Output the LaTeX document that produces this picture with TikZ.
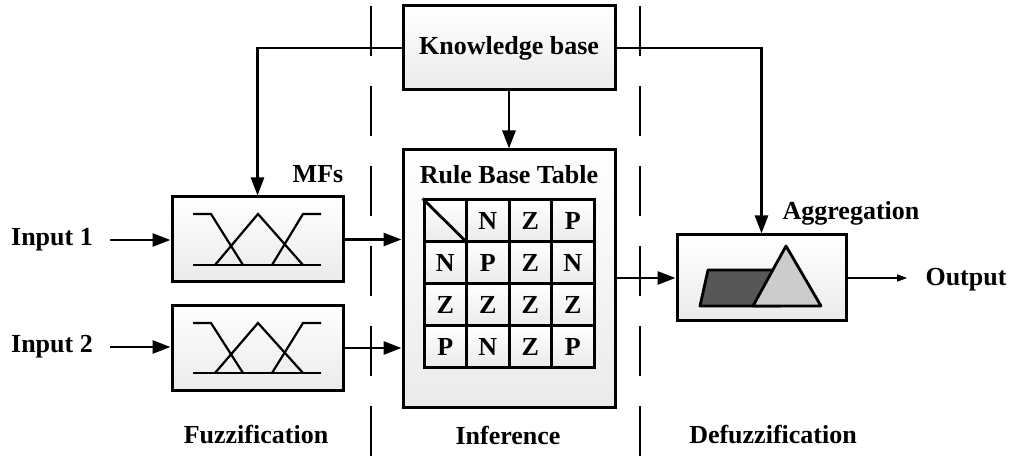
\documentclass[tikz,border=0pt]{standalone}
\usepackage{fontspec}
\setmainfont{Liberation Serif}
\usetikzlibrary{arrows.meta}

\tikzset{
  txt/.style={font=\fontsize{13}{15}\selectfont\bfseries, inner sep=0pt},
  block/.style={draw, line width=1.5pt, top color=white, bottom color=gray!16,
                inner sep=0pt, txt},
  cell/.style={block, minimum width=21.25pt, minimum height=21pt},
  conn/.style={line width=1.4pt, -{Triangle[length=9pt,width=6.5pt]}},
  thinarrow/.style={line width=0.6pt, -{Triangle[length=5pt,width=3.5pt]}},
  mfline/.style={line width=1.1pt},
  sep/.style={line width=1.4pt, dash pattern=on 25pt off 15pt},
}
\def\blankcell{x}

\begin{document}
\begin{tikzpicture}[x=0.5pt, y=-0.5pt]
\useasboundingbox (0,0) rectangle (1011,459);

% stage separators
\coordinate (s1top) at (371,6);  \coordinate (s1bot) at (371,459);
\coordinate (s2top) at (640,6);  \coordinate (s2bot) at (640,459);
\draw[sep] (s1top) -- (s1bot);
\draw[sep] (s2top) -- (s2bot);

% main blocks
\node[block, minimum width=106pt, minimum height=42pt] (kb) at (509,48) {Knowledge base};
\node[block, minimum width=106pt, minimum height=128.5pt] (rule) at (509,278.5) {};
\node[block, minimum width=85.5pt, minimum height=42.5pt] (mf1) at (257.5,239.5) {};
\node[block, minimum width=85.5pt, minimum height=42pt] (mf2) at (257.5,348) {};
\node[block, minimum width=84.5pt, minimum height=43pt] (agg) at (761.5,278) {};

% labels
\node[txt] (in1) at (52,240) {Input 1};
\node[txt] (in2) at (52,347) {Input 2};
\node[txt] (out) at (966,280) {Output};
\node[txt] (mfs) at (318,174) {MFs};
\node[txt] (rbt) at (509,175) {Rule Base Table};
\node[txt] (aggl) at (851,213) {Aggregation};
\node[txt] (fuz) at (256,435) {Fuzzification};
\node[txt] (inf) at (508,435) {Inference};
\node[txt] (def) at (773,435) {Defuzzification};

% rule table
\foreach \r/\row in {0/{x,N,Z,P}, 1/{N,P,Z,N}, 2/{Z,Z,Z,Z}, 3/{P,N,Z,P}} {
  \foreach \e [count=\c from 0] in \row {
    \pgfmathsetmacro{\cx}{445.25+42.5*\c}
    \pgfmathsetmacro{\cy}{221+42*\r}
    \ifx\e\blankcell
      \node[cell] (c\r\c) at (\cx,\cy) {};
    \else
      \node[cell] (c\r\c) at (\cx,\cy) {\e};
    \fi
  }
}
\draw[line width=1.4pt] (c00.north west) -- (c00.south east);

% membership functions
\foreach \t/\b in {214/265, 323/373} {
  \draw[mfline] (193,\b) -- (321,\b);
  \draw[mfline] (193,\t) -- (211,\t) -- (243,\b);
  \draw[mfline] (215,\b) -- (258,\t) -- (303,\b);
  \draw[mfline] (272,\b) -- (303,\t) -- (321,\t);
}

% aggregated output sets
\draw[line width=1.4pt, line join=round, fill=black!66]
  (700,306) -- (708,270) -- (772,270) -- (780,306) -- cycle;
\draw[line width=1.4pt, line join=round, fill=gray!40]
  (753,306) -- (786,246) -- (821,306) -- cycle;

% connectors
\draw[conn, shorten <=8.5pt] (in1.east) -- (in1.east -| mf1.west);
\draw[conn, shorten <=8.5pt] (in2.east) -- (in2.east -| mf2.west);
\draw[conn] (mf1.east) -- (mf1.east -| rule.west);
\draw[conn] (mf2.east) -- (mf2.east -| rule.west);
\draw[conn] (kb.south) -- (rule.north);
\draw[conn] (kb.west) -| (mf1.north);
\draw[conn] (kb.east) -| (agg.north);
\draw[conn] (agg.west -| rule.east) -- (agg.west);
\draw[thinarrow, shorten >=9pt] (agg.east) -- (agg.east -| out.west);
\end{tikzpicture}
\end{document}
